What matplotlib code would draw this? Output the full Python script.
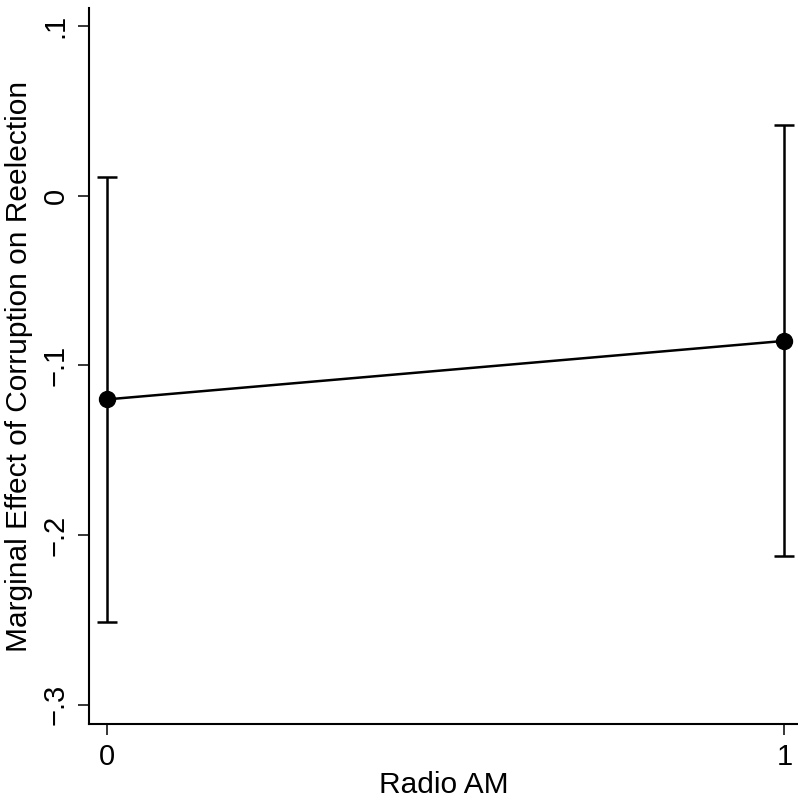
import matplotlib.pyplot as plt

radio_am = [0, 1]
effect = [-0.12, -0.0855]
ci_low = [-0.2513, -0.2124]
ci_high = [0.0113, 0.0419]
y_ticks = [-0.3, -0.2, -0.1, 0, 0.1]
y_tick_labels = ["\u2212.3", "\u2212.2", "\u2212.1", "0", ".1"]

plt.rcParams["font.family"] = ["Liberation Sans", "DejaVu Sans"]

fig = plt.figure(figsize=(7.98, 8.01), dpi=100)
ax = fig.add_axes([0.1115, 0.0961, 0.8885, 0.894])

# confidence intervals with caps
err_lo = [e - l for e, l in zip(effect, ci_low)]
err_hi = [h - e for e, h in zip(effect, ci_high)]
ax.errorbar(radio_am, effect, yerr=[err_lo, err_hi], fmt="none",
            ecolor="black", elinewidth=1.8, capsize=7, capthick=1.8)
ax.plot(radio_am, effect, color="black", lw=1.8, marker="o",
        markersize=11.5, markerfacecolor="black")

ax.set_xlim(-0.027, 1.02)
ax.set_ylim(-0.3115, 0.1109)
ax.set_xticks(radio_am)
ax.set_xticklabels(["0", "1"])
ax.set_yticks(y_ticks)
ax.set_yticklabels(y_tick_labels, rotation=90, va="center")

for s in ["top", "right"]:
    ax.spines[s].set_visible(False)
for s in ["left", "bottom"]:
    ax.spines[s].set_linewidth(1.5)

ax.tick_params(axis="both", length=8, width=1.1, labelsize=21, pad=6)

ax.set_xlabel("Radio AM", fontsize=21.5, labelpad=0)
ax.set_ylabel("Marginal Effect of Corruption on Reelection", fontsize=21.5, labelpad=6)

fig.savefig("out.png", dpi=100)
